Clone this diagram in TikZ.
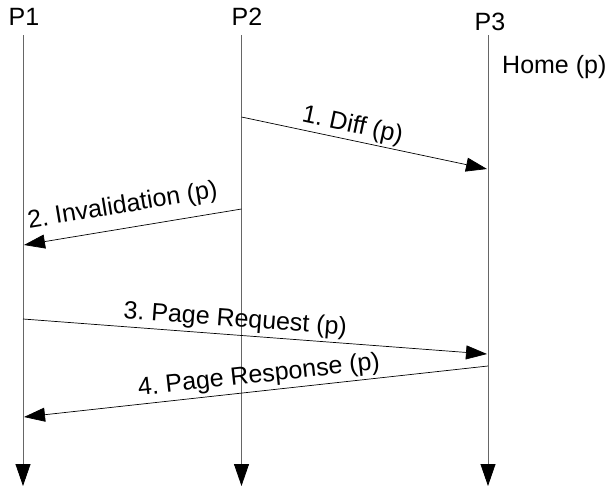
\documentclass[tikz,border=0pt]{standalone}
\usepackage{fontspec}
\setmainfont{Liberation Sans}
\usetikzlibrary{arrows.meta}

\begin{document}
\frenchspacing
\begin{tikzpicture}[x=1pt,y=-1pt,
      every node/.style={font=\fontsize{25}{29}\selectfont},
      lifeline/.style={draw=black!60,line width=0.8pt,
            -{Triangle[length=22pt,width=15pt,color=black]}},
      msg/.style={draw=black,line width=0.7pt,
            -{Triangle[length=21pt,width=14pt]}},
      msglabel/.style={inner sep=2pt,sloped}]
      \useasboundingbox (0,0) rectangle (608,488);

      % processes
      \node[anchor=base,inner sep=0pt] (p1) at (24,25) {P1};
      \node[anchor=base,inner sep=0pt] (p2) at (247,25) {P2};
      \node[anchor=base,inner sep=0pt] (p3) at (490,30) {P3};
      \node[anchor=base west,inner sep=0pt] (home) at (502,73) {Home (p)};

      % time lines
      \coordinate (p1top) at (23,35);
      \coordinate (p1end) at (23,486);
      \coordinate (p2top) at (241.5,35);
      \coordinate (p2end) at (241.5,486);
      \coordinate (p3top) at (488,35);
      \coordinate (p3end) at (488,486);
      \draw[lifeline] (p1top) -- (p1end);
      \draw[lifeline] (p2top) -- (p2end);
      \draw[lifeline] (p3top) -- (p3end);

      % message ends
      \coordinate (diffA) at (241.5,117);
      \coordinate (diffB) at (487,169);
      \coordinate (invA) at (241.5,209);
      \coordinate (invB) at (24,245);
      \coordinate (reqA) at (23,319);
      \coordinate (reqB) at (487,354);
      \coordinate (respA) at (488,366);
      \coordinate (respB) at (24,417);

      \draw[msg] (diffA) -- (diffB)
            node[msglabel,pos=0.44,above] (diff) {1. Diff (p)};
      \draw[msg] (invA) -- (invB)
            node[msglabel,pos=0.53,above=8pt] (inval) {2. Invalidation (p)};
      \draw[msg] (reqA) -- (reqB)
            node[msglabel,pos=0.455,above=1pt] (req) {3. Page Request (p)};
      \draw[msg] (respA) -- (respB)
            node[msglabel,pos=0.49,above=1pt] (resp) {4. Page Response (p)};
\end{tikzpicture}
\end{document}
